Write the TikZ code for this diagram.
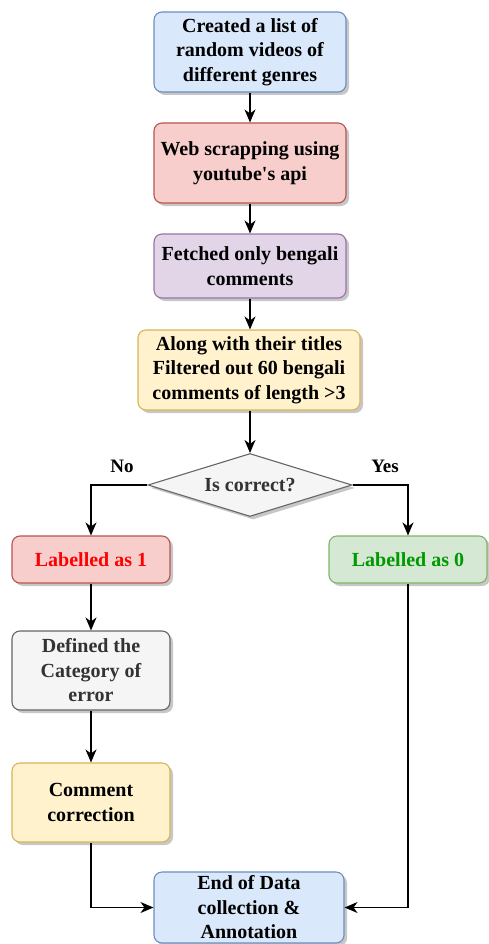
\documentclass[tikz,border=0pt]{standalone}
\usepackage{fontspec}
\setmainfont{Liberation Serif}[BoldFont={Liberation Serif Bold}, UprightFont={Liberation Serif}]
\usetikzlibrary{shapes.geometric,arrows.meta,shadows}
\definecolor{bluef}{HTML}{DAE8FC}\definecolor{blued}{HTML}{6C8EBF}
\definecolor{redf}{HTML}{F8CECC}\definecolor{redd}{HTML}{B85450}
\definecolor{purf}{HTML}{E1D5E7}\definecolor{purd}{HTML}{9673A6}
\definecolor{yelf}{HTML}{FFF2CC}\definecolor{yeld}{HTML}{D6B656}
\definecolor{grayf}{HTML}{F5F5F5}\definecolor{grayd}{HTML}{666666}
\definecolor{greenf}{HTML}{D5E8D4}\definecolor{greend}{HTML}{82B366}
\definecolor{txtgray}{HTML}{333333}
\definecolor{txtgreen}{HTML}{009900}
\definecolor{txtred}{HTML}{FF0000}
\tikzset{
  box/.style={draw, line width=1.1pt, rounded corners=8pt, align=center,
    inner sep=0pt, font=\fontsize{20}{24.5}\selectfont\bfseries,
    drop shadow={shadow xshift=3pt, shadow yshift=-3pt, fill=black, opacity=0.22}},
  conn/.style={line width=1.1pt, -{Stealth[length=13pt,width=11pt,inset=4pt]}},
  lbl/.style={font=\fontsize{19}{22}\selectfont\bfseries}
}
\begin{document}
\begin{tikzpicture}[x=1pt,y=-1pt]
\useasboundingbox (0,0) rectangle (489,944);
\node[box, fill=bluef, draw=blued, minimum width=192pt, minimum height=80pt] (b1) at (250,52)
  {Created a list of\\random videos of\\different genres};
\node[box, fill=redf, draw=redd, minimum width=192pt, minimum height=80pt] (b2) at (250,163)
  {Web scrapping using\\youtube\textquotesingle s api};
\node[box, fill=purf, draw=purd, minimum width=192pt, minimum height=64pt] (b3) at (250,266)
  {Fetched only bengali\\comments};
\node[box, fill=yelf, draw=yeld, minimum width=222pt, minimum height=80pt] (b4) at (249,370)
  {Along with their titles\\Filtered out 60 bengali\\comments of length >3};
\node[box, shape=diamond, rounded corners=0pt, fill=grayf, draw=grayd, text=txtgray,
  minimum width=204pt, minimum height=63pt] (d) at (250,485)
  {\makebox[0pt]{Is correct?}};
\node[box, fill=redf, draw=redd, text=txtred, minimum width=158pt, minimum height=47pt] (l1) at (91,559.5)
  {Labelled as 1};
\node[box, fill=greenf, draw=greend, text=txtgreen, minimum width=158pt, minimum height=47pt] (l0) at (408,559.5)
  {Labelled as 0};
\node[box, fill=grayf, draw=grayd, text=txtgray, minimum width=158pt, minimum height=79pt] (def) at (91,670.5)
  {Defined the\\Category of\\error};
\node[box, fill=yelf, draw=yeld, minimum width=158pt, minimum height=79pt] (cc) at (91,802.5)
  {Comment\\correction};
\node[box, fill=bluef, draw=blued, minimum width=190pt, minimum height=71pt] (end) at (249,907.5)
  {End of Data\\collection \&\\Annotation};
\node[lbl] (no) at (122,466) {No};
\node[lbl] (yes) at (385,466) {Yes};
\draw[conn] (b1) -- (b2);
\draw[conn] (b2) -- (b3);
\draw[conn] (b3) -- (b3 |- b4.north);
\draw[conn] (b4.south -| d.north) -- (d.north);
\draw[conn] (d.west) -| (l1.north);
\draw[conn] (d.east) -| (l0.north);
\draw[conn] (l1) -- (def);
\draw[conn] (def) -- (cc);
\draw[conn] (cc.south) |- (end.west);
\draw[conn] (l0.south) |- (end.east);
\end{tikzpicture}
\end{document}
